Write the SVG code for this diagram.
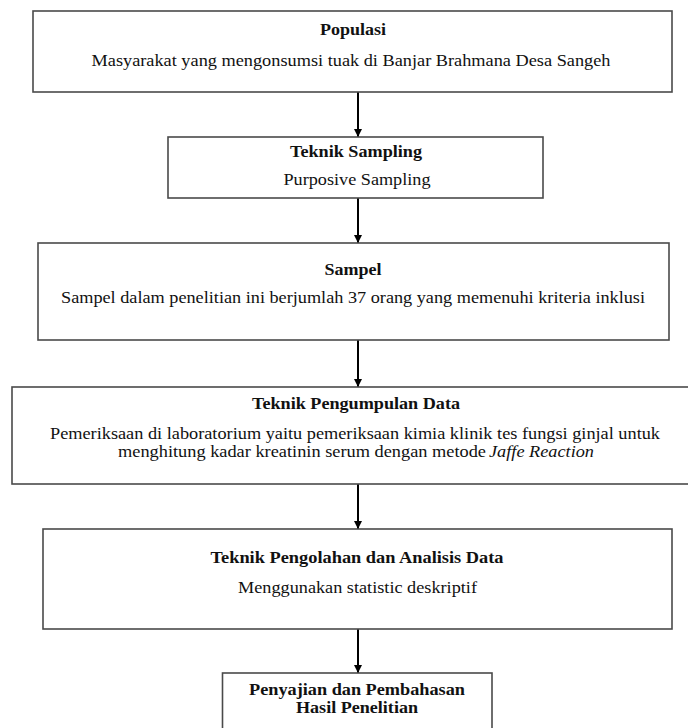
<svg xmlns="http://www.w3.org/2000/svg" width="688" height="728" viewBox="0 0 688 728">
  <defs>
    <marker id="arrow" viewBox="0 0 10 10" refX="10" refY="5" markerWidth="4" markerHeight="4" orient="auto" markerUnits="strokeWidth">
      <path d="M0,0 L10,5 L0,10 z" fill="#000"/>
    </marker>
    <style>
      .box { fill: #fff; stroke: #4a4a4a; stroke-width: 1.6; }
      .t { font-family: "Liberation Serif", "Times New Roman", serif; font-size: 17px; fill: #111; }
      .b { font-weight: bold; }
      .i { font-style: italic; }
      .c { text-anchor: middle; }
      .conn { stroke: #000; stroke-width: 2; fill: none; marker-end: url(#arrow); }
    </style>
  </defs>
  <rect x="0" y="0" width="688" height="728" fill="#fff"/>

  <g id="connectors">
    <line class="conn" x1="358" y1="92" x2="358" y2="137"/>
    <line class="conn" x1="358" y1="198" x2="358" y2="243"/>
    <line class="conn" x1="358" y1="340" x2="358" y2="387"/>
    <line class="conn" x1="358" y1="484" x2="358" y2="529"/>
    <line class="conn" x1="358" y1="629" x2="358" y2="673"/>
  </g>

  <g id="populasi">
    <rect class="box" x="33" y="11" width="639" height="81"/>
    <text class="t b c" x="353" y="35" textLength="66" lengthAdjust="spacingAndGlyphs">Populasi</text>
    <text class="t c" x="351" y="66" textLength="519" lengthAdjust="spacingAndGlyphs">Masyarakat yang mengonsumsi tuak di Banjar Brahmana Desa Sangeh</text>
  </g>

  <g id="teknik-sampling">
    <rect class="box" x="168" y="137" width="375" height="61"/>
    <text class="t b c" x="356" y="157" textLength="132" lengthAdjust="spacingAndGlyphs">Teknik Sampling</text>
    <text class="t c" x="357" y="185" textLength="147" lengthAdjust="spacingAndGlyphs">Purposive Sampling</text>
  </g>

  <g id="sampel">
    <rect class="box" x="38" y="243" width="631" height="97"/>
    <text class="t b c" x="353" y="275" textLength="57" lengthAdjust="spacingAndGlyphs">Sampel</text>
    <text class="t c" x="353" y="303" textLength="584" lengthAdjust="spacingAndGlyphs">Sampel dalam penelitian ini berjumlah 37 orang yang memenuhi kriteria inklusi</text>
  </g>

  <g id="teknik-pengumpulan-data">
    <rect class="box" x="12" y="387" width="678" height="97"/>
    <text class="t b c" x="356" y="409" textLength="208" lengthAdjust="spacingAndGlyphs">Teknik Pengumpulan Data</text>
    <text class="t c" x="355" y="439" textLength="610" lengthAdjust="spacingAndGlyphs">Pemeriksaan di laboratorium yaitu pemeriksaan kimia klinik tes fungsi ginjal untuk</text>
    <text class="t" x="118" y="457" textLength="368" lengthAdjust="spacingAndGlyphs">menghitung kadar kreatinin serum dengan metode</text>
    <text class="t i" x="489" y="457" textLength="105" lengthAdjust="spacingAndGlyphs">Jaffe Reaction</text>
  </g>

  <g id="teknik-pengolahan">
    <rect class="box" x="43" y="529" width="629" height="100"/>
    <text class="t b c" x="357" y="563" textLength="293" lengthAdjust="spacingAndGlyphs">Teknik Pengolahan dan Analisis Data</text>
    <text class="t c" x="357.5" y="593" textLength="239" lengthAdjust="spacingAndGlyphs">Menggunakan statistic deskriptif</text>
  </g>

  <g id="penyajian">
    <rect class="box" x="222.5" y="673" width="269.5" height="70"/>
    <text class="t b c" x="357" y="695" textLength="216" lengthAdjust="spacingAndGlyphs">Penyajian dan Pembahasan</text>
    <text class="t b c" x="357" y="713" textLength="122" lengthAdjust="spacingAndGlyphs">Hasil Penelitian</text>
  </g>
</svg>
